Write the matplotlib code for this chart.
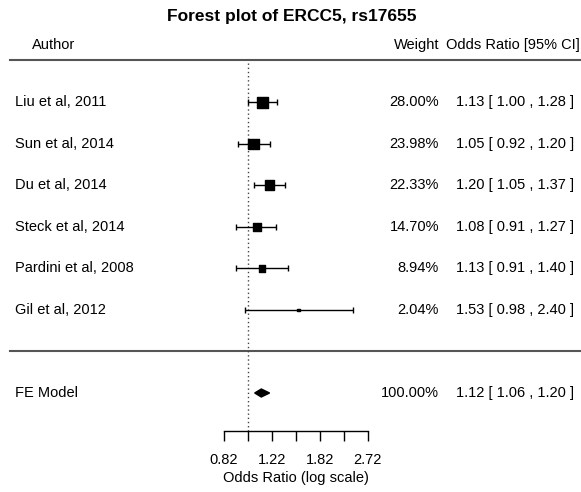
import numpy as np
import matplotlib.pyplot as plt
from matplotlib.transforms import blended_transform_factory
from matplotlib.ticker import FixedLocator, FixedFormatter

plt.rcParams["font.family"] = ["Liberation Sans", "DejaVu Sans"]

authors = ["Liu et al, 2011", "Sun et al, 2014", "Du et al, 2014",
           "Steck et al, 2014", "Pardini et al, 2008", "Gil et al, 2012"]
weights = [28.00, 23.98, 22.33, 14.70, 8.94, 2.04]
odds = [1.13, 1.05, 1.20, 1.08, 1.13, 1.53]
ci_low = [1.00, 0.92, 1.05, 0.91, 0.91, 0.98]
ci_high = [1.28, 1.20, 1.37, 1.27, 1.40, 2.40]

fe_label = "FE Model"
fe_weight = 100.00
fe_or = 1.12
fe_low = 1.06
fe_high = 1.20

tick_logs = [-0.2, 0.0, 0.2, 0.4, 0.6, 0.8, 1.0]

W, H = 581, 492
FS = 10.5

fig = plt.figure(figsize=(W / 100, H / 100), dpi=100)
ax = fig.add_axes([0, 0, 1, 1])
ax.set_xscale("log")
# 1.0 sits at pixel 247.7, 120 px per natural-log unit
ax.set_xlim(np.exp(-247.7 / 120), np.exp((W - 247.7) / 120))
ax.set_ylim(H, 0)

row_y = 102 + 41.6 * np.arange(len(authors))
fe_y = 393
axis_y = 431

tr = blended_transform_factory(ax.transAxes, ax.transData)

# title and header
fig.text(292 / W, 1 - 16 / H, "Forest plot of ERCC5, rs17655", ha="center", va="center",
         fontsize=12.5, fontweight="bold")
ax.text(32 / W, 45, "Author", transform=tr, ha="left", va="center", fontsize=FS)
ax.text(439 / W, 45, "Weight", transform=tr, ha="right", va="center", fontsize=FS)
ax.text(580 / W, 45, "Odds Ratio [95% CI]", transform=tr, ha="right", va="center", fontsize=FS)

# horizontal rules
ax.plot([10 / W, 1], [60, 60], transform=tr, color="#555555", lw=1.5)
ax.plot([10 / W, 1], [351, 351], transform=tr, color="#555555", lw=1.5)

# reference line at OR = 1
ax.plot([1, 1], [63, axis_y], color="#444444", lw=1, ls=(0, (1, 2)))

# studies
ax.errorbar(odds, row_y,
            xerr=[np.array(odds) - np.array(ci_low), np.array(ci_high) - np.array(odds)],
            fmt="none", ecolor="black", elinewidth=1, capsize=2.5, capthick=1)
side_px = 11 * np.sqrt(np.array(weights) / weights[0])
ax.scatter(odds, row_y, s=(side_px * 0.72) ** 2, marker="s", color="black", zorder=3)

for y, a, w, o, lo, hi in zip(row_y, authors, weights, odds, ci_low, ci_high):
    ax.text(15 / W, y, a, transform=tr, ha="left", va="center", fontsize=FS)
    ax.text(439 / W, y, f"{w:.2f}%", transform=tr, ha="right", va="center", fontsize=FS)
    ax.text(574 / W, y, f"{o:.2f} [ {lo:.2f} , {hi:.2f} ]", transform=tr,
            ha="right", va="center", fontsize=FS)

# pooled estimate
ax.fill([fe_low, fe_or, fe_high, fe_or], [fe_y, fe_y - 4, fe_y, fe_y + 4], color="black")
ax.text(15 / W, fe_y, fe_label, transform=tr, ha="left", va="center", fontsize=FS)
ax.text(439 / W, fe_y, f"{fe_weight:.2f}%", transform=tr, ha="right", va="center", fontsize=FS)
ax.text(574 / W, fe_y, f"{fe_or:.2f} [ {fe_low:.2f} , {fe_high:.2f} ]", transform=tr,
        ha="right", va="center", fontsize=FS)

# x axis
ticks = np.exp(tick_logs)
for s in ["top", "left", "right"]:
    ax.spines[s].set_visible(False)
ax.spines["bottom"].set_position(("data", axis_y))
ax.spines["bottom"].set_bounds(ticks[0], ticks[-1])
ax.spines["bottom"].set_linewidth(1)
ax.yaxis.set_visible(False)
ax.xaxis.set_major_locator(FixedLocator(ticks))
ax.xaxis.set_minor_locator(FixedLocator([]))
labels = [f"{t:.2f}" if i % 2 == 0 else "" for i, t in enumerate(ticks)]
ax.xaxis.set_major_formatter(FixedFormatter(labels))
ax.tick_params(axis="x", direction="out", length=7.2, width=1, pad=9, labelsize=FS)
ax.text(np.exp(0.4), 478, "Odds Ratio (log scale)", ha="center", va="center", fontsize=FS)

fig.savefig("out.png", dpi=100)
